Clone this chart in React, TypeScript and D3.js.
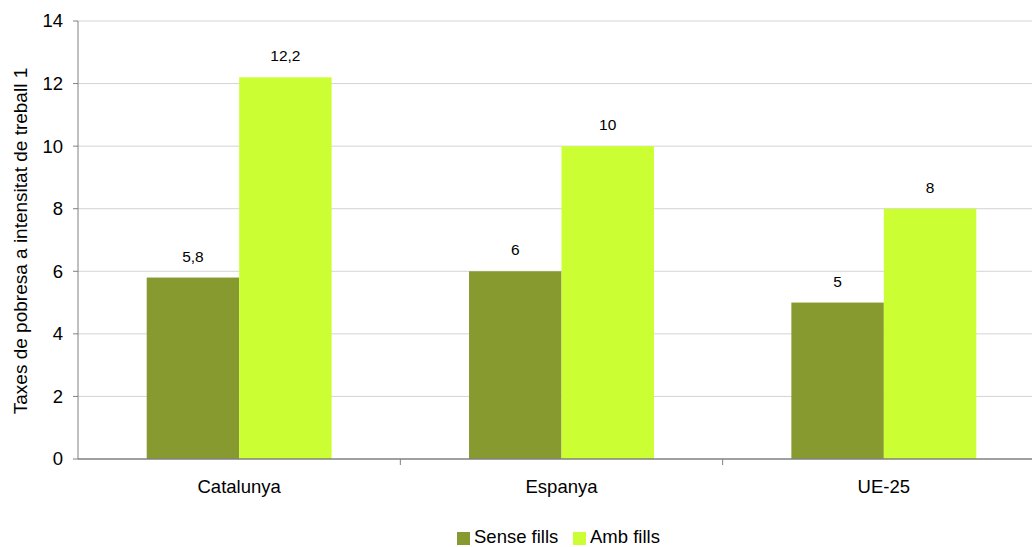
import React from "react";
import * as d3 from "d3";

const categories = ["Catalunya", "Espanya", "UE-25"];
const seriesNames = ["Sense fills", "Amb fills"];
const senseFills = [5.8, 6, 5];
const ambFills = [12.2, 10, 8];
const yTicks = [0, 2, 4, 6, 8, 10, 12, 14];
const colors = ["#869A2F", "#CCFF33"];

const W = 1032, H = 547;
const m = { left: 78, top: 21, bottom: 459, right: 1045 };

export default function App() {
  const x = d3.scaleBand<string>().domain(categories).range([m.left, m.right]).paddingInner(0).paddingOuter(0);
  const inner = d3.scaleBand<string>().domain(seriesNames).range([0, x.bandwidth()]).paddingOuter(0.743).paddingInner(0);
  const y = d3.scaleLinear().domain([0, 14]).range([m.bottom, m.top]);
  const series = [senseFills, ambFills];
  const fmt = (v: number) => String(v).replace(".", ",");
  const font = "Arial, 'Liberation Sans', sans-serif";
  return (
    <svg width={W} height={H} style={{ position: "absolute", left: 0, top: 0, fontFamily: font }}>
      <rect width={W} height={H} fill="#fff" />
      {yTicks.filter(t => t > 0).map(t => (
        <line key={t} x1={m.left} x2={W} y1={y(t)} y2={y(t)} stroke="#d4d4d4" strokeWidth={1} />
      ))}
      {categories.map((c, i) =>
        series.map((s, j) => (
          <rect key={c + j} x={(x(c) as number) + (inner(seriesNames[j]) as number)} y={y(s[i])}
            width={inner.bandwidth()} height={y(0) - y(s[i])} fill={colors[j]} />
        ))
      )}
      {categories.map((c, i) =>
        series.map((s, j) => (
          <text key={"l" + c + j} x={(x(c) as number) + (inner(seriesNames[j]) as number) + inner.bandwidth() / 2}
            y={y(s[i]) - 16} textAnchor="middle" fontSize={15.5} fill="#000">{fmt(s[i])}</text>
        ))
      )}
      <line x1={m.left} x2={m.left} y1={m.top} y2={m.bottom} stroke="#808080" strokeWidth={1} />
      <line x1={m.left} x2={W} y1={m.bottom} y2={m.bottom} stroke="#808080" strokeWidth={1.5} />
      {yTicks.map(t => (
        <g key={"t" + t}>
          <line x1={m.left - 5} x2={m.left} y1={y(t)} y2={y(t)} stroke="#808080" />
          <text x={m.left - 15} y={y(t)} dy="0.35em" textAnchor="end" fontSize={18.5} fill="#000">{t}</text>
        </g>
      ))}
      {categories.map((c, i) => (
        <g key={"c" + c}>
          {i > 0 && <line x1={x(c)} x2={x(c)} y1={m.bottom} y2={m.bottom + 6} stroke="#808080" />}
          <text x={(x(c) as number) + x.bandwidth() / 2} y={493} textAnchor="middle" fontSize={18.5} fill="#000">{c}</text>
        </g>
      ))}
      <text transform={`translate(27,241) rotate(-90)`} textAnchor="middle" fontSize={19} fill="#000">
        Taxes de pobresa a intensitat de treball 1
      </text>
      {seriesNames.map((n, j) => {
        const lx = j === 0 ? 457 : 573;
        return (
          <g key={"lg" + n}>
            <rect x={lx} y={532} width={13} height={13} fill={colors[j]} />
            <text x={lx + 17} y={543} fontSize={18.5} fill="#000">{n}</text>
          </g>
        );
      })}
    </svg>
  );
}
